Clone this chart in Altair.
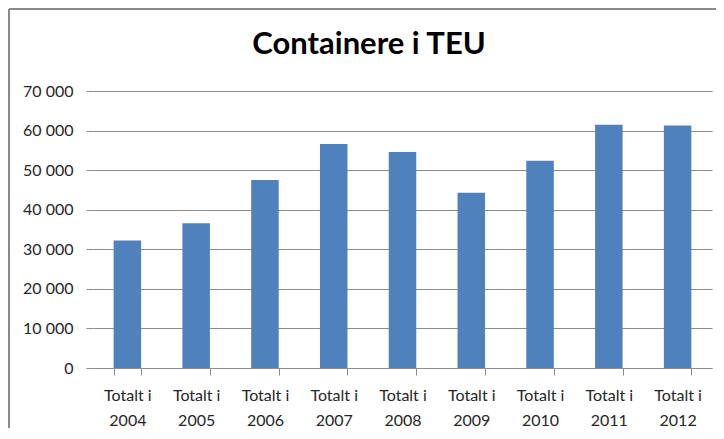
import altair as alt
import pandas as pd

categories = ["Totalt i 2004", "Totalt i 2005", "Totalt i 2006", "Totalt i 2007",
              "Totalt i 2008", "Totalt i 2009", "Totalt i 2010", "Totalt i 2011",
              "Totalt i 2012"]
values = [32200, 36600, 47500, 56600, 54600, 44300, 52400, 61500, 61300]
y_ticks = [0, 10000, 20000, 30000, 40000, 50000, 60000, 70000]
title_text = "Containere i TEU"

df = pd.DataFrame({"cat": categories, "val": values})

FONT = "Lato"
TXT = "#262626"
GRID = "#8c8c8c"

bars = alt.Chart(df).mark_bar(color="#4F81BD").encode(
    x=alt.X("cat:N", sort=categories,
            scale=alt.Scale(paddingInner=0.6, paddingOuter=0.3),
            axis=alt.Axis(title=None, labelAngle=0, tickBand="extent",
                          tickSize=7, tickColor=GRID, domainColor=GRID,
                          labelFont=FONT, labelFontSize=16, labelColor=TXT,
                          labelPadding=12, labelLineHeight=25,
                          labelFlush=False, labelOverlap=False, labelBound=False,
                          labelExpr="length(datum.label) > 9 ? ['Totalt i', substring(datum.label, 9)] : ''")),
    y=alt.Y("val:Q", scale=alt.Scale(domain=[0, 70000], nice=False),
            axis=alt.Axis(title=None, values=y_ticks, grid=True, gridColor=GRID,
                          domain=False, tickSize=7, tickColor=GRID,
                          labelFont=FONT, labelFontSize=16, labelColor=TXT,
                          labelPadding=13,
                          labelExpr="datum.value == 0 ? '0' : format(datum.value/1000, 'd') + ' 000'")),
)

frame = alt.Data(values=[{"k": 0}])
top_border = alt.Chart(frame).mark_rule(color="#8a8a8a", strokeWidth=2).encode(
    x=alt.value(-84), x2=alt.value(640), y=alt.value(-82))
left_border = alt.Chart(frame).mark_rule(color="#8a8a8a", strokeWidth=2).encode(
    x=alt.value(-84), y=alt.value(-82), y2=alt.value(360))

title = alt.Chart(alt.Data(values=[{"t": title_text}])).mark_text(
    font=FONT, fontSize=31, fontWeight="bold", color="#000000",
    align="center", baseline="alphabetic").encode(
    text="t:N", x=alt.value(276), y=alt.value(-37))

chart = alt.layer(bars, top_border, left_border, title).properties(
    width=619, height=277,
    padding={"left": 85, "top": 83, "right": 4, "bottom": 60},
    autosize=alt.AutoSizeParams(type="none"),
).configure_view(stroke=None)

chart.save("out.html", embed_options={"renderer": "svg", "actions": False})
